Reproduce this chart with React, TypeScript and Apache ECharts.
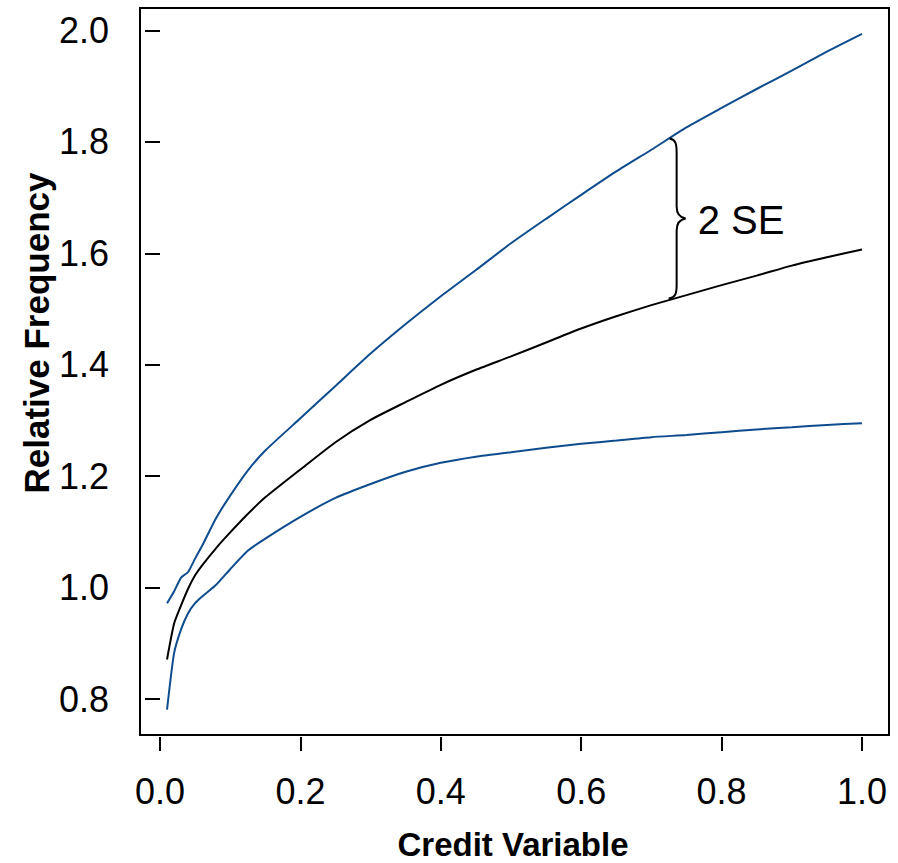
import React, { useEffect, useRef } from "react";
import * as echarts from "echarts";

const xValues = [0.01, 0.02, 0.03, 0.04, 0.05, 0.06, 0.08, 0.1, 0.125, 0.15, 0.2, 0.25, 0.3, 0.35, 0.4, 0.45, 0.5, 0.55, 0.6, 0.65, 0.7, 0.75, 0.8, 0.85, 0.9, 0.95, 1.0];
const upperBand = [0.972, 0.993, 1.018, 1.028, 1.052, 1.075, 1.125, 1.165, 1.21, 1.246, 1.304, 1.362, 1.42, 1.473, 1.523, 1.57, 1.618, 1.662, 1.705, 1.747, 1.786, 1.826, 1.861, 1.895, 1.928, 1.962, 1.994];
const estimate = [0.871, 0.935, 0.968, 0.998, 1.022, 1.04, 1.071, 1.099, 1.132, 1.162, 1.212, 1.261, 1.301, 1.333, 1.364, 1.391, 1.415, 1.44, 1.465, 1.487, 1.507, 1.525, 1.543, 1.56, 1.578, 1.593, 1.607];
const lowerBand = [0.781, 0.882, 0.925, 0.954, 0.972, 0.984, 1.005, 1.033, 1.066, 1.088, 1.127, 1.161, 1.186, 1.208, 1.224, 1.235, 1.243, 1.251, 1.258, 1.264, 1.27, 1.274, 1.279, 1.284, 1.288, 1.292, 1.295];
const xTicks = [0, 0.2, 0.4, 0.6, 0.8, 1.0];
const yTicks = [0.8, 1.0, 1.2, 1.4, 1.6, 1.8, 2.0];
const braceAt = [0.726, 1.806, 1.519];
const braceLabel = "2 SE";
const xTitle = "Credit Variable";
const yTitle = "Relative Frequency";

const FONT = "'Liberation Sans', Arial, Helvetica, sans-serif";
const BLUE = "#0E4C8E";

export default function App() {
  const ref = useRef<HTMLDivElement>(null);
  useEffect(() => {
    if (!ref.current) return;
    const chart = echarts.init(ref.current, null, { renderer: "svg" });
    const zip = (ys: number[]) => xValues.map((x, i) => [x, ys[i]]);
    chart.setOption({
      animation: false,
      backgroundColor: "#fff",
      grid: {
        left: 140,
        top: 8,
        width: 749,
        height: 727,
        show: true,
        borderColor: "#000",
        borderWidth: 2,
        backgroundColor: "transparent",
      },
      xAxis: {
        type: "value",
        min: -0.0285,
        max: 1.0385,
        offset: 2,
        axisLine: { show: false },
        splitLine: { show: false },
        axisTick: { show: true, length: 14, lineStyle: { color: "#000", width: 2 }, customValues: xTicks },
        axisLabel: {
          customValues: xTicks,
          formatter: (v: number) => v.toFixed(1),
          fontSize: 36,
          color: "#000",
          margin: 36,
          fontFamily: FONT,
        },
      },
      yAxis: {
        type: "value",
        min: 0.7354,
        max: 2.0404,
        offset: 2,
        axisLine: { show: false },
        splitLine: { show: false },
        axisTick: { show: true, length: 15, lineStyle: { color: "#000", width: 2 }, customValues: yTicks },
        axisLabel: {
          customValues: yTicks,
          formatter: (v: number) => v.toFixed(1),
          fontSize: 36,
          color: "#000",
          margin: 29,
          padding: [13, 0, 0, 0],
          fontFamily: FONT,
        },
      },
      graphic: [
        {
          type: "text",
          x: 513,
          y: 844,
          style: { text: xTitle, font: `bold 33px ${FONT}`, fill: "#000", align: "center", verticalAlign: "middle" },
        },
        {
          type: "text",
          x: 36,
          y: 333,
          rotation: Math.PI / 2,
          style: { text: yTitle, font: `bold 35px ${FONT}`, fill: "#000", align: "center", verticalAlign: "middle" },
        },
      ],
      series: [
        { type: "line", data: zip(upperBand), showSymbol: false, smooth: 0.2, lineStyle: { color: BLUE, width: 2 }, z: 3 },
        { type: "line", data: zip(lowerBand), showSymbol: false, smooth: 0.2, lineStyle: { color: BLUE, width: 2 }, z: 3 },
        { type: "line", data: zip(estimate), showSymbol: false, smooth: 0.2, lineStyle: { color: "#000", width: 2 }, z: 4 },
        {
          type: "custom",
          data: [braceAt],
          z: 5,
          renderItem: (params: any, api: any) => {
            const top = api.coord([api.value(0), api.value(1)]);
            const bot = api.coord([api.value(0), api.value(2)]);
            const x = top[0];
            const yT = top[1];
            const yB = bot[1];
            const ym = (yT + yB) / 2;
            const v = x + 7;
            const tip = x + 16;
            const d =
              `M ${x} ${yT} C ${x + 6} ${yT + 1} ${v} ${yT + 5} ${v} ${yT + 14} ` +
              `L ${v} ${ym - 12} C ${v} ${ym - 5} ${v + 3} ${ym - 1} ${tip} ${ym} ` +
              `C ${v + 3} ${ym + 1} ${v} ${ym + 5} ${v} ${ym + 12} ` +
              `L ${v} ${yB - 14} C ${v} ${yB - 5} ${x + 6} ${yB - 1} ${x - 1} ${yB}`;
            return {
              type: "group",
              children: [
                {
                  type: "path",
                  shape: { pathData: d },
                  style: { fill: "none", stroke: "#000", lineWidth: 2 },
                },
                {
                  type: "text",
                  x: tip + 12,
                  y: ym + 1,
                  style: { text: braceLabel, font: `40px ${FONT}`, fill: "#000", align: "left", verticalAlign: "middle" },
                },
              ],
            };
          },
        },
      ],
    });
    return () => chart.dispose();
  }, []);
  return <div ref={ref} style={{ position: "fixed", left: 0, top: 0, width: 898, height: 863 }} />;
}
